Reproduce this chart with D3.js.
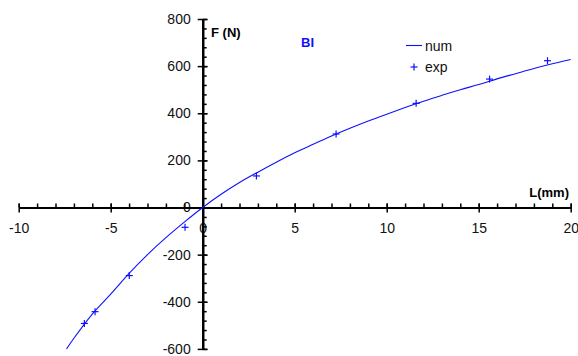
<!DOCTYPE html>
<html><head><meta charset="utf-8">
<script src="https://cdn.jsdelivr.net/npm/d3@7"></script>
<style>body{margin:0;background:#fff;} text{font-family:"Liberation Sans",Arial,sans-serif;}</style>
</head><body>
<svg id="c" width="578" height="356"></svg>
<script>
// numerical curve (L in mm, F in N)
const numL = [-7.4,-7,-6,-5,-4,-3,-2,-1,0,1,2,3,4,5,6,7,8,9,10,11,12,13,14,15,16,17,18,19,20];
const numF = [-600,-555,-452,-368,-280,-200,-128,-62,0,56,106,150,192,232,268,303,336,367,396,424,451,476,500,522,546,568,590,610,628];
// experimental points
const expL = [-6.43,-5.85,-3.99,-0.96,2.92,7.25,11.6,15.59,18.74];
const expF = [-492,-442,-289,-84,134,312,442,545,623];
const xMajor = [-10,-5,0,5,10,15,20];
const yMajor = [-600,-400,-200,0,200,400,600,800];

const svg = d3.select("#c");
const x = d3.scaleLinear().domain([-10,20]).range([18.7,570.7]);
const y = d3.scaleLinear().domain([-600,800]).range([348.9,19]);
const blue = "#1010ff";
const fmt = d => String(d);

// x axis
const xMinor = d3.range(-10,20.001,1);
svg.append("g").attr("transform",`translate(0,${y(0)})`)
  .call(d3.axisTop(x).tickValues(xMinor).tickSize(4).tickSizeOuter(0).tickFormat(""));
svg.append("g").attr("transform",`translate(0,${y(0)})`)
  .call(d3.axisBottom(x).tickValues(xMajor).tickSize(5).tickSizeOuter(0).tickPadding(11).tickFormat(fmt));
// y axis
const yMinor = d3.range(-600,800.001,40);
svg.append("g").attr("transform",`translate(${x(0)},0)`)
  .call(d3.axisRight(y).tickValues(yMinor).tickSize(4).tickSizeOuter(0).tickFormat(""));
svg.append("g").attr("transform",`translate(${x(0)},0)`)
  .call(d3.axisLeft(y).tickValues(yMajor).tickSize(5).tickSizeOuter(0).tickPadding(7).tickFormat(fmt));
// major ticks crossing on the other side too
svg.append("g").attr("transform",`translate(0,${y(0)})`)
  .call(d3.axisTop(x).tickValues(xMajor).tickSize(4).tickSizeOuter(0).tickFormat(""));
svg.append("g").attr("transform",`translate(${x(0)},0)`)
  .call(d3.axisRight(y).tickValues(yMajor).tickSize(5).tickSizeOuter(0).tickFormat(""));

svg.selectAll(".domain").attr("stroke","#000").attr("stroke-width",2);
svg.selectAll(".tick line").attr("stroke","#000").attr("stroke-width",1.5);
svg.selectAll(".tick text").attr("font-size",14).attr("fill","#111").attr("font-family","Liberation Sans, Arial, sans-serif");

// curve
const line = d3.line().x((d,i)=>x(numL[i])).y((d,i)=>y(numF[i])).curve(d3.curveMonotoneX);
svg.append("path").datum(numF).attr("d",line).attr("fill","none").attr("stroke",blue).attr("stroke-width",1.1);

// exp markers
const pts = svg.append("g").attr("stroke",blue).attr("stroke-width",1.2);
expL.forEach((l,i)=>{
  const cx=x(l), cy=y(expF[i]);
  pts.append("line").attr("x1",cx-3.5).attr("x2",cx+3.5).attr("y1",cy).attr("y2",cy);
  pts.append("line").attr("x1",cx).attr("x2",cx).attr("y1",cy-3.5).attr("y2",cy+3.5);
});

// labels
svg.append("text").attr("x",211).attr("y",37).attr("font-size",13).attr("font-weight","bold").text("F (N)");
svg.append("text").attr("x",569).attr("y",197).attr("text-anchor","end").attr("font-size",13).attr("font-weight","bold").text("L(mm)");
svg.append("text").attr("x",301).attr("y",47).attr("font-size",13).attr("font-weight","bold").attr("fill",blue).text("BI");

// legend
svg.append("line").attr("x1",406).attr("x2",422).attr("y1",45.5).attr("y2",45.5).attr("stroke",blue).attr("stroke-width",1.1);
svg.append("text").attr("x",425).attr("y",51).attr("font-size",14).attr("fill","#111").text("num");
const lx=414, ly=67;
svg.append("line").attr("x1",lx-3.5).attr("x2",lx+3.5).attr("y1",ly).attr("y2",ly).attr("stroke",blue).attr("stroke-width",1.2);
svg.append("line").attr("x1",lx).attr("x2",lx).attr("y1",ly-3.5).attr("y2",ly+3.5).attr("stroke",blue).attr("stroke-width",1.2);
svg.append("text").attr("x",425).attr("y",72).attr("font-size",14).attr("fill","#111").text("exp");
</script>
</body></html>
